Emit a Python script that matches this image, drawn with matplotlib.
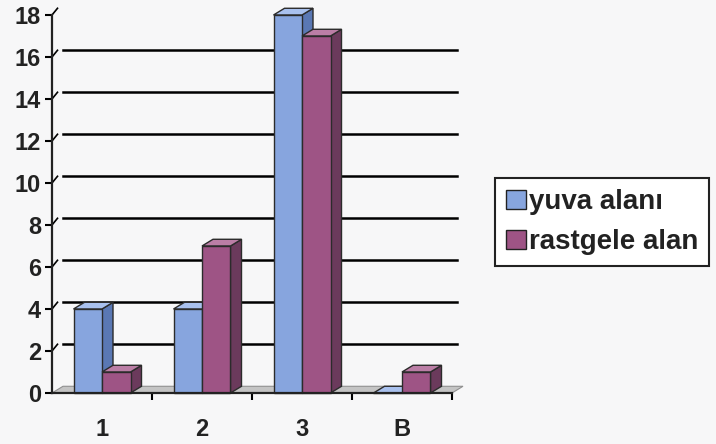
import matplotlib.pyplot as plt
from matplotlib.patches import Polygon, Patch

categories = ["1", "2", "3", "B"]
yuva = [4, 4, 18, 0]
rastgele = [1, 7, 17, 1]
series_names = ["yuva alanı", "rastgele alan"]
y_ticks = [0, 2, 4, 6, 8, 10, 12, 14, 16, 18]

plt.rcParams["font.family"] = ["Liberation Sans", "DejaVu Sans"]
plt.rcParams["font.weight"] = "bold"

# face colours: front, top, side
blue = ("#87a5de", "#a9c1ee", "#5a78b4")
plum = ("#9e5485", "#bb7ea6", "#6b3a5c")

DX, DY = 0.11, 0.32      # depth offset of the back wall (x in categories, y in units)
BW = 0.285               # bar front width in category units

fig = plt.figure(figsize=(7.16, 4.44), dpi=100)
fig.patch.set_facecolor("#f7f7f8")
ax = fig.add_axes([52 / 716, 51 / 444, 400 / 716, 378 / 444])
ax.set_facecolor("none")
ax.set_xlim(-0.5, len(categories) - 0.5)
ax.set_ylim(0, 18)


def box(x0, h, colors):
    x1 = x0 + BW
    front = [(x0, 0), (x1, 0), (x1, h), (x0, h)]
    top = [(x0, h), (x1, h), (x1 + DX, h + DY), (x0 + DX, h + DY)]
    side = [(x1, 0), (x1 + DX, DY), (x1 + DX, h + DY), (x1, h)]
    for pts, c in ((side, colors[2]), (top, colors[1]), (front, colors[0])):
        ax.add_patch(Polygon(pts, closed=True, facecolor=c, edgecolor="#2b2b2b",
                             linewidth=1.0, zorder=4, clip_on=False))


# back wall gridlines with the little connectors to the axis
left, right = -0.5, len(categories) - 0.5
for v in y_ticks[1:-1]:
    ax.plot([left + DX, right + DX * 0.5], [v + DY, v + DY], color="black",
            lw=1.8, zorder=1, clip_on=False)
for v in y_ticks[1:]:
    ax.plot([left, left + DX * 0.5], [v, v + DY], color="black", lw=1.2,
            zorder=1, clip_on=False)

# floor
ax.add_patch(Polygon([(left, 0), (right, 0), (right + DX, DY), (left + DX, DY)],
                     closed=True, facecolor="#c4c4c4", edgecolor="#909090",
                     linewidth=0.8, zorder=2, clip_on=False))

for i in range(len(categories)):
    box(i - BW, yuva[i], blue)
    box(i, rastgele[i], plum)

for s in ["top", "right"]:
    ax.spines[s].set_visible(False)
for s in ["left", "bottom"]:
    ax.spines[s].set_linewidth(1.6)
    ax.spines[s].set_color("#222222")
    ax.spines[s].set_zorder(5)

ax.set_yticks(y_ticks)
ax.set_yticklabels([str(v) for v in y_ticks], fontsize=17, fontweight="bold",
                   color="#222222")
ax.tick_params(axis="y", direction="out", length=5, width=1.5, pad=3)

ax.set_xticks([i + 0.5 for i in range(len(categories) - 1)] + [right])
ax.set_xticklabels([])
ax.set_xticks(range(len(categories)), minor=True)
ax.set_xticklabels(categories, minor=True, fontsize=17, fontweight="bold",
                   color="#222222")
ax.tick_params(axis="x", which="major", direction="out", length=5, width=1.5)
ax.tick_params(axis="x", which="minor", length=0, pad=18)

handles = [Patch(facecolor=blue[0], edgecolor="#222222", label=series_names[0]),
           Patch(facecolor=plum[0], edgecolor="#222222", label=series_names[1])]
leg = fig.legend(handles=handles, loc="upper left",
                 bbox_to_anchor=(495 / 716, 1 - 178 / 444),
                 prop={"size": 20, "weight": "bold"}, frameon=True,
                 fancybox=False, edgecolor="#222222", framealpha=1,
                 handlelength=0.7, handleheight=0.7, handletextpad=0.12,
                 borderpad=0.4, labelspacing=0.5, borderaxespad=0)
leg.get_frame().set_linewidth(1.5)
for t in leg.get_texts():
    t.set_color("#222222")

fig.savefig("out.png", dpi=100, facecolor=fig.get_facecolor())
